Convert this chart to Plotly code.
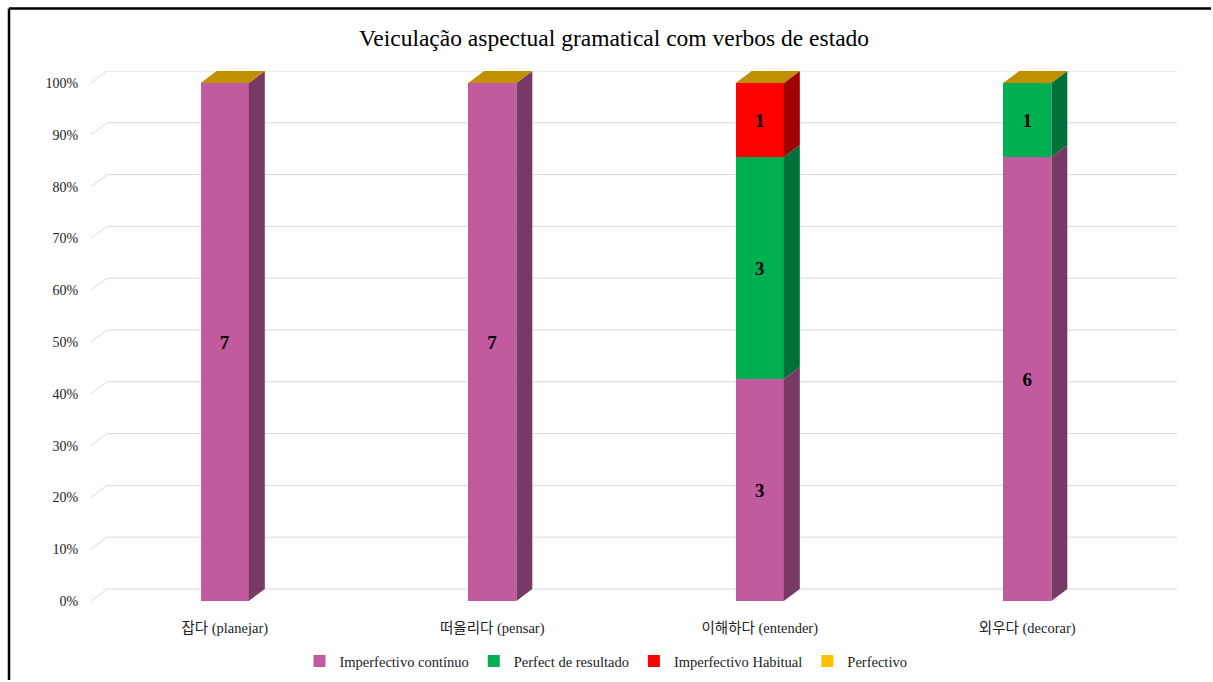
import plotly.graph_objects as go

# ---------------- data ----------------
categories = ["잡다 (planejar)", "떠올리다 (pensar)", "이해하다 (entender)", "외우다 (decorar)"]
series_names = ["Imperfectivo contínuo", "Perfect de resultado", "Imperfectivo Habitual", "Perfectivo"]
imperf_continuo = [7, 7, 3, 6]
perfect_resultado = [0, 0, 3, 1]
imperf_habitual = [0, 0, 1, 0]
perfectivo = [0, 0, 0, 0]
y_ticks = [0, 10, 20, 30, 40, 50, 60, 70, 80, 90, 100]
y_ticktext = [f"{v}%" for v in y_ticks]
title_text = "Veiculação aspectual gramatical com verbos de estado"

# ---------------- styles ----------------
front_colors = ["#C25B9E", "#00B050", "#FF0000", "#FFC000"]
side_colors = ["#783A64", "#00703A", "#A00000", "#BF9000"]
grid_color = "#D9D9D9"
serif = "Liberation Serif, Times New Roman, Noto Sans CJK KR, serif"

W, H = 1213, 682
ML, MR, MT, MB = 91, 36, 71, 81
BAR_W = 0.18
DX = 0.0598   # depth offset, category units
DY = 2.32     # depth offset, percent units

series = [imperf_continuo, perfect_resultado, imperf_habitual, perfectivo]
xs = list(range(len(categories)))
totals = [sum(s[i] for s in series) for i in xs]

fig = go.Figure()
for name, vals, col in zip(series_names, series, front_colors):
    fig.add_trace(go.Bar(
        x=xs, y=vals, name=name, width=BAR_W,
        marker=dict(color=col, line=dict(width=0)),
        text=[f"<b>{v}</b>" if v else "" for v in vals],
        textposition="inside", insidetextanchor="middle", textangle=0,
        textfont=dict(family=serif, size=19, color="black"),
        constraintext="none",
    ))

shapes = []
# back-wall gridlines with depth diagonals
for v in y_ticks:
    shapes.append(dict(type="line", xref="x", yref="y", layer="below",
                       x0=-0.5 + DX, x1=3.5 + DX, y0=v + DY, y1=v + DY,
                       line=dict(color=grid_color, width=1)))
    shapes.append(dict(type="line", xref="x", yref="y", layer="below",
                       x0=-0.5, x1=-0.5 + DX, y0=v, y1=v + DY,
                       line=dict(color=grid_color, width=1)))

# 3D side faces and top faces computed from the data
for i in xs:
    cum = 0.0
    xr = i + BAR_W / 2
    xl = i - BAR_W / 2
    for vals, sc in zip(series, side_colors):
        if totals[i] == 0:
            continue
        p = vals[i] / totals[i] * 100
        if p > 0:
            y0, y1 = cum, cum + p
            path = (f"M {xr},{y0} L {xr + DX},{y0 + DY} L {xr + DX},{y1 + DY} "
                    f"L {xr},{y1} Z")
            shapes.append(dict(type="path", xref="x", yref="y", path=path,
                               fillcolor=sc, line=dict(width=0), layer="above"))
        cum += p
    top_col = side_colors[-1]
    path = (f"M {xl},{cum} L {xl + DX},{cum + DY} L {xr + DX},{cum + DY} "
            f"L {xr},{cum} Z")
    shapes.append(dict(type="path", xref="x", yref="y", path=path,
                       fillcolor=top_col, line=dict(width=0), layer="above"))

# outer chart border (top and left only, like the source crop)
pw, ph = W - ML - MR, H - MT - MB
def px2paper_x(px):
    return (px - ML) / pw
def px2paper_y(py):
    return (H - MB - py) / ph
shapes.append(dict(type="line", xref="paper", yref="paper",
                   x0=px2paper_x(9), x1=px2paper_x(W - 2), y0=px2paper_y(8.5), y1=px2paper_y(8.5),
                   line=dict(color="black", width=2.5), layer="above"))
shapes.append(dict(type="line", xref="paper", yref="paper",
                   x0=px2paper_x(9), x1=px2paper_x(9), y0=px2paper_y(8.5), y1=px2paper_y(H - 2),
                   line=dict(color="black", width=2.5), layer="above"))

fig.update_layout(
    width=W, height=H,
    margin=dict(l=ML, r=MR, t=MT, b=MB, pad=0, autoexpand=False),
    barmode="stack", barnorm="percent",
    plot_bgcolor="white", paper_bgcolor="white",
    shapes=shapes,
    title=dict(text=title_text, x=614 / W, xref="container", xanchor="center",
               y=1 - 38 / H, yref="container", yanchor="middle",
               font=dict(family=serif, size=23.5, color="black")),
    xaxis=dict(range=[-0.5, 3.5 + DX], tickvals=xs, ticktext=categories,
               showgrid=False, zeroline=False, showline=False, automargin=False,
               ticks="outside", ticklen=14, tickcolor="rgba(0,0,0,0)",
               tickfont=dict(family=serif, size=14.5, color="#222")),
    yaxis=dict(range=[0, 100 + DY], tickvals=y_ticks, ticktext=y_ticktext,
               showgrid=False, zeroline=False, showline=False, automargin=False,
               ticks="outside", ticklen=9, tickcolor="rgba(0,0,0,0)",
               tickfont=dict(family=serif, size=14, color="#222")),
    legend=dict(orientation="h", x=(606 - ML) / pw, xanchor="center",
                y=px2paper_y(661), yanchor="middle",
                font=dict(family=serif, size=14.5, color="#222"),
                itemwidth=30, traceorder="normal"),
    showlegend=True,
)

fig.write_html("out.html")
